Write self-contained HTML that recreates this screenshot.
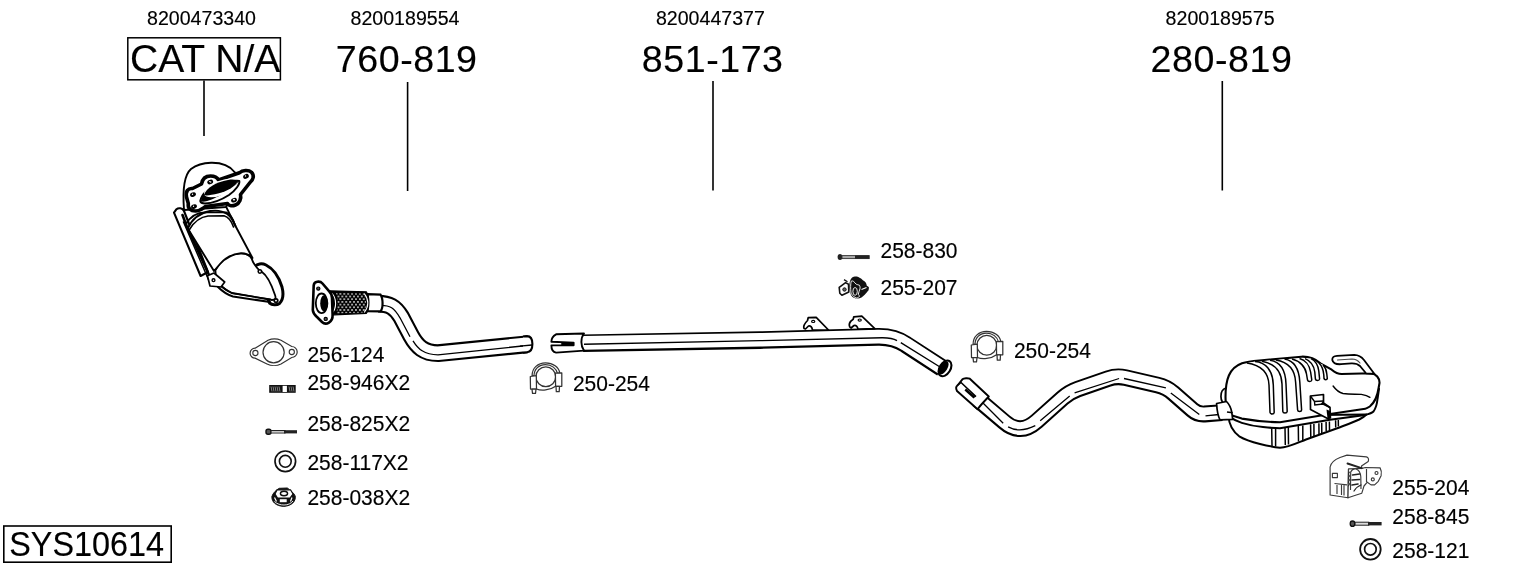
<!DOCTYPE html>
<html><head><meta charset="utf-8">
<style>
html,body{margin:0;padding:0;background:#fff;width:1530px;height:566px;overflow:hidden}
svg{position:absolute;left:0;top:0;will-change:transform}
text{font-family:"Liberation Sans",sans-serif;fill:#000;stroke:#000;stroke-width:0.15px}
</style></head><body>
<svg width="1530" height="566" viewBox="0 0 1530 566">
<!-- top id numbers -->
<g font-size="19.6">
<text x="147" y="24.6">8200473340</text>
<text x="350.5" y="24.6">8200189554</text>
<text x="655.9" y="24.6">8200447377</text>
<text x="1165.6" y="24.6">8200189575</text>
</g>
<!-- big part numbers -->
<g font-size="38.5">
<text x="130" y="72.3" font-size="39">CAT N/A</text>
<text x="335.8" y="71.6" font-size="37.6" letter-spacing="0.55">760-819</text>
<text x="641.8" y="71.6" font-size="37.6" letter-spacing="0.55">851-173</text>
<text x="1150.6" y="71.6" font-size="37.6" letter-spacing="0.55">280-819</text>
</g>
<rect x="127.8" y="37.8" width="152.6" height="42" fill="none" stroke="#000" stroke-width="1.5"/>
<!-- leader lines -->
<g stroke="#000" stroke-width="1.6">
<line x1="204" y1="80.5" x2="204" y2="136"/>
<line x1="407.6" y1="82" x2="407.6" y2="191"/>
<line x1="713" y1="81" x2="713" y2="190.5"/>
<line x1="1222.3" y1="81" x2="1222.3" y2="190.5"/>
</g>
<!-- SYS box -->
<rect x="3.8" y="526" width="167.4" height="36.2" fill="none" stroke="#000" stroke-width="1.6"/>
<text transform="translate(9.3,556.1) scale(0.98,1.035)" font-size="33">SYS10614</text>

<defs>
<pattern id="mesh" width="3.9" height="5.4" patternUnits="userSpaceOnUse" patternTransform="translate(336.5,293.8)">
<rect width="3.9" height="5.4" fill="#000"/>
<circle cx="0" cy="0" r="0.85" fill="#fff"/><circle cx="3.9" cy="0" r="0.85" fill="#fff"/><circle cx="0" cy="5.4" r="0.85" fill="#fff"/><circle cx="3.9" cy="5.4" r="0.85" fill="#fff"/>
<circle cx="1.95" cy="2.7" r="0.85" fill="#fff"/>
</pattern>
</defs>
<!-- ===== FRONT PIPE 760-819 ===== -->
<g id="frontpipe" fill="none" stroke-linejoin="round">
<path d="M378,303.7 C389,303.7 395,306.7 401,316.7 L411,335.7 C417,346.7 424,353.2 438,353.2 L527,344.3" stroke="#000" stroke-width="17.8"/>
<path d="M378,303.7 C389,303.7 395,306.7 401,316.7 L411,335.7 C417,346.7 424,353.2 438,353.2 L527,344.3" stroke="#fff" stroke-width="13.6"/>
<path d="M381,305.3 C390,305.3 394,307.8 400,317.8 L410,336.8 M413,340.8 C418,348.8 424,354.8 438,354.8 L532,345" stroke="#000" stroke-width="1.3"/>
<path d="M523,336.5 L527,336.1 C531,336.1 532.4,339.5 532.4,344 C532.4,348.5 531,352 527,352.2 L523,352.6" stroke="#000" stroke-width="2.1" fill="#fff"/>
<path d="M520,346.2 L532,345" stroke="#000" stroke-width="1.3"/>
</g>
<!-- sleeve -->
<path d="M367.5,294.2 L380.5,294.6 C383,298 383.5,308 380.5,311.4 L367.5,311.2 Z" fill="#fff" stroke="#000" stroke-width="2.2"/>
<!-- flex -->
<path d="M329.5,290.8 L366.3,291.8 C369.8,296 369.8,309 366.3,313.3 L329.5,315 Z" fill="#000" stroke="#000" stroke-width="1.2"/>
<path d="M336,293 L364.5,293.5 C366.5,298 366.5,308 364.5,312.5 L336,313.5 C338,308 338,298 336,293 Z" fill="url(#mesh)"/>
<path d="M331.6,293.2 C334.5,296 335.6,300 335.6,303.5 C335.6,307 334.5,311 331.6,313.5" stroke="#fff" stroke-width="1.1" fill="none"/>
<path d="M364.2,293.5 C367,297 367.8,300 367.8,303 C367.8,306 367,309 364.2,312.5" stroke="#fff" stroke-width="1.1" fill="none"/>
<!-- flange -->
<path d="M313.7,285.4 C314,281 320,280.5 322.5,283.5 L329,291 C331,293 332,296 332,298 L332.6,314.8 C333,322 326,326 322,322 L318,318 C316,316 313,314 312.8,310 Z" fill="#fff" stroke="#000" stroke-width="2.6"/>
<circle cx="318.3" cy="288.6" r="1.6" fill="#555" stroke="#000" stroke-width="1.2"/>
<circle cx="325.7" cy="318.9" r="1.6" fill="#555" stroke="#000" stroke-width="1.2"/>
<ellipse cx="321.6" cy="303.3" rx="5.8" ry="9.8" fill="#fff" stroke="#000" stroke-width="1.8"/>
<ellipse cx="324" cy="303.3" rx="3.8" ry="8" fill="#000"/>

<!-- ===== MID PIPE 851-173 ===== -->
<g fill="none">
<path d="M583,343.2 L760,340.1 L878,336.9 Q894.4,336.6 906,344.6 L942,368" stroke="#000" stroke-width="17.6"/>
<path d="M583,342.9 L760,339.8 L878,336.6 Q894.4,336.3 906,344.3 L942,367.7" stroke="#fff" stroke-width="13.6"/>
<path d="M584,344.2 L760,340.65 L882,337.7 Q892,337.6 897,340.6 M900.8,342.6 L940,367" stroke="#000" stroke-width="1.4"/>

</g>

<ellipse cx="945" cy="368.4" rx="8.6" ry="5.4" transform="rotate(-58 945 368.4)" fill="#fff" stroke="#000" stroke-width="2.1"/>
<ellipse cx="943.6" cy="367.9" rx="7.4" ry="3.7" transform="rotate(-58 943.6 367.9)" fill="#000"/>

<!-- mid sleeve -->
<path d="M584,333.5 L556.1,334.3 C553,336 551.4,339 551.4,341.8 L573.6,342.6 L573.6,345.2 L551.4,345.4 C551.4,349 553,352 556.1,352.6 L584,350.6 C580.5,346 580.5,338 584,333.5 Z" fill="#fff" stroke="#000" stroke-width="1.9" stroke-linejoin="round"/>
<path d="M562,342.7 L573.3,343 L573.3,345 L562,345.2 Z" fill="#000" stroke="#000" stroke-width="1.5"/>
<!-- brackets -->
<g fill="#fff" stroke="#000" stroke-width="1.7" stroke-linejoin="round">
<path d="M804,328.5 C803,326 804.5,323.5 807.5,320.5 L808.2,317.7 L816.2,317.4 L828.5,330 L812.5,330 C812,327 810.5,325.5 808.5,326 L805.5,329 Z"/>
<path d="M849.7,326.8 C848.5,324 850,321.5 853.2,319.3 L853.8,316.8 L861.8,316.2 L874.8,328.6 L858,329.2 C857.5,326.5 856,325 854,325.5 L851,328 Z"/>
</g>
<ellipse cx="813.2" cy="321.4" rx="1.6" ry="1.1" fill="none" stroke="#000" stroke-width="1.2"/>
<ellipse cx="859.7" cy="320.1" rx="1.6" ry="1.1" fill="none" stroke="#000" stroke-width="1.2"/>



<!-- ===== REAR PIPE 280-819 ===== -->
<g fill="none" stroke-linejoin="round">
<path id="rp" d="M978,399.5 L1004.2,421.8 Q1020.25,435.8 1036.7,421.2 L1062.6,398.1 Q1069.3,392.1 1077.8,389.1 L1108.1,378.6 Q1116.6,375.6 1125.4,377.6 L1157.7,385.1 Q1166.5,387.1 1173.3,393.1 L1192.4,409.9 Q1197.6,414.5 1204.6,414 L1222,412.7" stroke="#000" stroke-width="16.8"/>
<path d="M978,399.4 L1004.2,421.7 Q1020.25,435.7 1036.7,421.1 L1062.6,398 Q1069.3,392 1077.8,389 L1108.1,378.5 Q1116.6,375.5 1125.4,377.5 L1157.7,385 Q1166.5,387 1173.3,393 L1192.4,409.8 Q1197.6,414.4 1204.6,413.9 L1222,412.6" stroke="#fff" stroke-width="12.8"/>
<path d="M981,401 L1003.2,423.2 M1008.1,426.9 Q1020,433.3 1035.3,425.7 M1040.2,420.7 L1069.7,395.9 M1074.6,392.8 L1119.1,378.5 M1124,378.5 L1165.9,387.9 M1170.8,392.9 L1199.3,414.5 M1205.5,415.8 L1219.1,414.5" stroke="#000" stroke-width="1.3"/>
</g>
<!-- rear sleeve -->
<path d="M962.4,379.3 C964,378 968,378 969.8,378.7 L988.8,396.5 C985.5,400 981,404.5 977.6,409.2 L957,391 C956,389 956,386.5 957.4,385.5 Z" fill="#fff" stroke="#000" stroke-width="1.9" stroke-linejoin="round"/>
<path d="M957.4,385.5 L961,382.4 L976,396.6" fill="none" stroke="#000" stroke-width="1.5"/>
<path d="M966,388.5 L975.5,396.8 L973.5,398.5 L964.5,390.5 Z" fill="#000"/>

<!-- ===== MUFFLER ===== -->
<g stroke="#000" stroke-linejoin="round" stroke-linecap="round">
<path d="M1226,404 C1219.5,403 1219,390 1226,388" fill="#fff" stroke-width="1.7"/>
<path d="M1228.5,416 C1229,425 1232,431 1239.7,436.7 C1246,440.5 1252,442 1260,444 C1266,445.5 1273,447 1280,447.8 C1288,447.5 1296,443.5 1306,439.5 L1337.2,428.3 C1347,424.5 1355,421.5 1359.2,419.5 C1363,417.5 1365,416 1366.5,414.5 Z" fill="#fff" stroke-width="2"/>
<path d="M1226,413 L1225.5,396.9 C1225.5,380 1229,368 1242,363.3 C1248,361.5 1255,361 1262,360.3 L1301.5,356.7 C1309,356.4 1315,358.5 1320.4,363.4 L1331.7,369.7 C1335,372.5 1338,374 1341.6,374 L1371.3,373.2 C1376,374 1379.7,378 1379.5,383 L1378.6,388 C1377.5,396 1374,403 1369.8,406.5 C1368,407.8 1366.5,408.5 1365.3,408.7 L1330,414 L1280,422.3 C1265,422 1250,420 1241.8,418.6 C1236,417 1231,415 1227,412.8 Z" fill="#fff" stroke-width="2.1"/>
<path d="M1227,412.8 L1228,415.8 C1232,418.5 1236,421 1241.8,422.9 C1250,425.5 1256,426.5 1263,427.1 C1270,427.8 1275,428.2 1280,428.2 L1330,419.8 L1365.3,414.9 C1369,414 1372,413 1373.5,411.5 C1376,408 1377,404 1377.5,399 L1379,388.8" fill="none" stroke-width="2"/>
<!-- tail pipe -->
<path d="M1366,373.3 L1360,366 C1358,364 1355,363.2 1351.5,363.3 L1341,364.2 C1336,364.5 1333,363 1332.3,360 C1332,357 1334,356 1337,355.8 L1354.3,354.9 C1358.5,355 1362,357.5 1364,360 L1374.5,374 Z" fill="#fff" stroke-width="1.8"/>
<path d="M1337.5,360 L1352,359 C1355,359 1358,360.5 1360,363" fill="none" stroke-width="1.1" stroke="#444"/>
<path d="M1333.1,386 C1336,390 1339,392.5 1343,393.5 C1350,394.5 1356,394 1361.4,394.4 C1365,395 1368,396 1369.9,397.3" fill="none" stroke-width="1.4"/>
</g>
<!-- ribs top -->
<g fill="#fff" stroke="#000" stroke-width="1.5" stroke-linejoin="round">
<path d="M1247,363 C1260,365 1268.5,372 1269,385 L1270,412.5 C1270.2,414.5 1274,414.5 1274.2,412.5 L1273.3,385 C1273,370 1265,362 1255,361.4"/>
<path d="M1262,361.2 C1274,363.5 1281.5,370 1282,384 L1282.8,411.5 C1283,413.5 1287,413.5 1287.2,411.5 L1286,384 C1285.5,369 1279,361.5 1270,360.2"/>
<path d="M1276,359.9 C1288,362 1295,369 1295.6,382 L1297.6,410 C1297.8,412 1301.5,412 1301.6,410 L1299.8,382 C1299,368 1293,360.5 1284.5,359.1"/>
<path d="M1292,359.1 C1300,361 1305.5,367 1306.5,374 L1307.5,380 C1308,382 1311.5,382 1311.8,380 L1310.6,372 C1309.5,365 1305,360 1299.5,358.6"/>
<path d="M1305,358.6 C1311,361 1314,366 1314.8,372 L1315.4,379 C1315.8,381 1319.3,381 1319.6,379 L1318.8,371 C1318,365 1315,360.5 1311,358.6"/>
<path d="M1319,363 C1322,366 1323.5,371 1323.8,375 L1324,378.5 C1324.3,380 1327,380 1327.3,378.5 L1326.8,374 C1326.5,370 1325,367 1323,364.8"/>
</g>
<!-- lower ribs -->
<g fill="none" stroke="#000" stroke-width="1.5">
<path d="M1271.7,428.3 L1272,446 M1275.6,428 L1275.6,446.5"/>
<path d="M1285,427.5 L1285.3,445 M1288.3,427 L1288.5,444.5"/>
<path d="M1298.3,426 L1298.5,441.5 M1302.8,425.5 L1302.8,440"/>
<path d="M1310.6,424.3 L1310.8,437 M1313.9,424 L1314,436"/>
<path d="M1318.9,423.2 L1319,434 M1321.7,422.8 L1321.8,433"/>
<path d="M1326.1,422 L1326.2,431 M1329.4,421.5 L1329.5,430"/>
<path d="M1335.6,420.3 L1335.7,427.5 M1338.3,420 L1338.4,426.5"/>
</g>
<!-- bracket -->
<path d="M1310.4,396 L1323.5,394.5 L1323.5,403 L1330,407.5 L1330.4,418 L1327.5,418.5 L1310.5,409.5 Z" fill="#fff" stroke="#000" stroke-width="1.7" stroke-linejoin="round"/>
<path d="M1310.4,396 L1314.5,401.5 L1323.5,401 M1314.5,401.5 L1314.8,405 L1323,404 L1330,407.5" fill="none" stroke="#000" stroke-width="1.4"/>
<path d="M1326.5,409.5 L1330.2,411 L1330.4,418 L1327.5,418.5 Z" fill="#000"/>
<path d="M1323.5,402 L1321.5,404.5" stroke="#000" stroke-width="2"/>
<!-- clamp -->
<path d="M1216.6,403.5 L1226.5,401.5 C1229,404 1231,408 1231.7,412 L1232.7,419.4 L1220,419.8 C1218,416 1217,411 1216.6,403.5 Z" fill="#fff" stroke="#000" stroke-width="1.7" stroke-linejoin="round"/>
<path d="M1227,412 L1232.7,412.8" fill="none" stroke="#000" stroke-width="1.4"/>
<!-- ===== CATALYST ===== -->
<g stroke="#000" stroke-linejoin="round" stroke-linecap="round">
<!-- rod bracket -->
<path d="M176.5,209.2 C178.5,207.5 182.5,208 184,211 L208,272 L200.6,276 L174,212.6 Z" fill="#fff" stroke-width="2.1"/>
<!-- outlet flange -->
<path d="M254.5,267 C257,263.5 262,263 266,265 C273,268.5 279,277 282,287 C283.5,293 283,300 279.5,303.5 C276.5,305.5 272,305 269.5,303 Z" fill="#fff" stroke-width="3"/>
<!-- cone / outlet bulb -->
<path d="M215.4,270.3 C220,262 226,256 232.1,254.8 C237,253 241,253 244.4,253.6 C249,254.5 252,258 253,262 C256,267 258,270 262,272 C268,276 272,286 275,295 C276,298 276,300 272,300 L232,293 C225,290 219,285 216,279 Z" fill="#fff" stroke-width="1.8"/>
<path d="M219.1,283.3 C223,288 227,291 232.1,293.2 L270.4,299.3" fill="none" stroke-width="1.6"/>
<path d="M218,287 C223,292 228,295 233,296.5 L270,302" fill="none" stroke-width="2"/>
<!-- cylinder body -->
<path d="M187.8,228.4 C192,219 200,213 210,211 C220,209.5 230,212 234.8,224.7 L252.5,258 C249,254.5 245,253 241,253.2 C233,254 226,257 220,264 L214,271 Z" fill="#fff" stroke-width="1.9"/>
<path d="M185.5,224.5 C190,217 197,212.5 205.1,212.4 L226.1,212.4 C230,214 233,219 234.8,224.7" fill="none" stroke-width="1.9"/>
<path d="M189.5,229.5 C194,222 200,217 208,216 L224,215.8 C228,217 231.5,221 233.5,227" fill="none" stroke-width="1.6"/>
<path d="M226,206.5 L235.5,226" fill="none" stroke-width="1.8"/>
<path d="M182.5,215 L187,227 L209,275" fill="none" stroke-width="2.6"/>
<path d="M183.5,222 L209,280.8" fill="none" stroke-width="1.5"/>
<!-- tab -->
<path d="M207.4,275.8 L214,273 L224.7,282 L221,287 L210,286 Z" fill="#fff" stroke-width="1.7"/>
<circle cx="213.5" cy="280.2" r="1.4" fill="none" stroke-width="1.4"/>
<circle cx="259.9" cy="271.5" r="1.7" fill="#fff" stroke-width="1.6"/>
<circle cx="276" cy="300.6" r="1.8" fill="#fff" stroke-width="1.7"/>
<!-- dome -->
<path d="M184,210 C182.5,190 184,175 191,169 C197,164.5 204,163 211,162.8 C220,162.6 229,165 234.5,172 C238,176 238,180 236,186 L226,207 Z" fill="#fff" stroke-width="1.9"/>
<!-- flange -->
<path d="M186.5,197 C185.5,191 188,188 192.5,188.5 L201.5,184 C202.5,178.5 206,176 210.5,176 C215,176 217.5,178 218.5,180 L239.5,172.8 C242.5,170 248.5,169.5 251.5,172.3 C254.5,175.5 253.5,179.5 250,182.5 L240.5,194.5 C241.5,198.5 239.5,203.5 235.5,205 C231.5,206.5 228.5,205.5 227.5,203.5 L205.5,206.5 C202.5,208.5 200,211 195.5,211 C190.5,211 187.5,208 188.3,203.5 Z" fill="#fff" stroke-width="3.6"/>
<g fill="#000" stroke="none">
<ellipse cx="193" cy="194.6" rx="3" ry="2.2" transform="rotate(-20 193 194.6)"/>
<ellipse cx="210.2" cy="182" rx="3" ry="2.2" transform="rotate(-20 210.2 182)"/>
<ellipse cx="246" cy="176.4" rx="3" ry="2.2" transform="rotate(-30 246 176.4)"/>
<ellipse cx="234" cy="200.2" rx="3" ry="2.2" transform="rotate(-20 234 200.2)"/>
<ellipse cx="194" cy="206.6" rx="3" ry="2.2" transform="rotate(-20 194 206.6)"/>
</g>
<g fill="#fff" stroke="none">
<circle cx="192.5" cy="194.2" r="0.7"/><circle cx="209.7" cy="181.6" r="0.7"/><circle cx="245.5" cy="176" r="0.7"/><circle cx="233.5" cy="199.8" r="0.7"/><circle cx="193.5" cy="206.2" r="0.7"/>
</g>
<path d="M200.3,201 C202,193 210,187.5 220,184.3 C228,181.7 235,180.3 239.3,181 C240,184 236,190 229,195 C222,199.5 212,203.3 205,203.5 C202.5,203.5 200.6,202.5 200.3,201 Z" fill="#fff" stroke-width="2"/>
<path d="M200.8,201.2 C202.5,192.5 211,187.5 220,184.8 C228,182.3 235,181 238.3,181.5 C236,186.5 229,191 221,195 C214,198.5 207,202.5 200.8,201.5 Z" fill="#000" stroke="none"/>
<circle cx="210.7" cy="182" r="0.7" fill="#fff" stroke="none"/>
<circle cx="234.4" cy="199.8" r="0.7" fill="#fff" stroke="none"/>
</g>
<ellipse cx="220.5" cy="188" rx="17.5" ry="7.2" transform="rotate(-22 220.5 188)" fill="#fff" stroke-width="1.7"/>
<path d="M204,195 C206,188 216,182 228,180 C234,179 237,180 237.5,181.5 C236,186 228,191 218,193.5 C212,195 206,196 204,195 Z" fill="#000" stroke="none"/>
</g>


<!-- ===== ICONS ===== -->
<!-- gasket 256-124 -->
<path d="M255.1,348.2 L268,340.2 C272,338.5 277,338.5 281,340.2 L291.7,346.5 A5.5,5.5 0 0 1 291.7,357.5 L281,364 C277,366 271,366 267,364 L255.1,358.2 A5,5 0 0 1 255.1,348.2 Z" fill="#fff" stroke="#333" stroke-width="1.2"/>
<circle cx="273.6" cy="352.3" r="10.6" fill="none" stroke="#333" stroke-width="1.2"/>
<circle cx="255.4" cy="353" r="2.6" fill="none" stroke="#333" stroke-width="1.1"/>
<circle cx="291.8" cy="352" r="2.6" fill="none" stroke="#333" stroke-width="1.1"/>
<!-- stud 258-946 -->
<rect x="269.2" y="385" width="26.5" height="7.8" fill="#111"/>
<rect x="282.6" y="385.8" width="4.3" height="6.2" fill="#fff"/>
<g stroke="#ccc" stroke-width="0.6">
<path d="M271,386.5 L272,391.5 M273,386.5 L274,391.5 M275,386.5 L276,391.5 M277,386.5 L278,391.5 M279,386.5 L280,391.5 M289,386.5 L290,391.5 M291,386.5 L292,391.5 M293,386.5 L294,391.5"/>
</g>
<!-- bolt 258-825 -->
<rect x="266" y="429.3" width="5" height="5" rx="2" fill="#555" stroke="#111" stroke-width="1.4"/>
<path d="M271,430.6 L285,430.6 L285,433 L271,433 Z" fill="#fff" stroke="#222" stroke-width="1.2"/>
<rect x="284" y="430.2" width="13" height="3.2" fill="#222"/>
<!-- washer 258-117 -->
<circle cx="285.3" cy="461.3" r="10.3" fill="none" stroke="#111" stroke-width="1.7"/>
<circle cx="285.3" cy="461.3" r="5.9" fill="none" stroke="#111" stroke-width="1.6"/>
<!-- nut 258-038 -->
<path d="M279.3,488.3 L287.3,488 C290,490 294,493 295.2,496 C296,501 292,506 283.6,506.4 C276,506 271.5,502 271.9,496.5 C273,493 276,490 279.3,488.3 Z" fill="#111" stroke="#111" stroke-width="1"/>
<path d="M277,490 L290.5,489.8 L293,494 L290,498 L277.5,498 L275,494 Z" fill="#fff" stroke="#111" stroke-width="1.2"/>
<ellipse cx="284" cy="493.5" rx="3.6" ry="2.2" fill="none" stroke="#111" stroke-width="1.4"/>
<rect x="279.8" y="499.2" width="6.9" height="3" fill="#fff"/>
<path d="M274.5,497.5 L276.5,501.5 M292,497.5 L290.5,501.5" stroke="#fff" stroke-width="1.2"/>
<path d="M274.5,501.5 C277,504 280.5,505 284,505 C288,505 291,503.5 293,501" fill="none" stroke="#fff" stroke-width="0.9"/>
<!-- clamps 250-254 -->
<g id="clamp" fill="#fff" stroke="#333" stroke-width="1.25" stroke-linejoin="round">
<path d="M532.1,375.7 C532,368 538,362.8 545.5,362.8 C553,362.8 559,367 559.7,372.9 L557.5,373.5 C556.5,368.5 551.5,364.5 545.5,364.5 C539,364.5 534,369 534,376 Z"/>
<circle cx="545.8" cy="376.8" r="9.9"/>
<path d="M530.3,376.5 L536.3,375.7 L536.5,389.1 L530.5,389.1 Z"/>
<path d="M555.4,373.2 L561.8,372.9 L561.8,386.3 L555.6,386.3 Z"/>
<path d="M536.5,389 C541,391 550,390.5 555.6,386.3" fill="none"/>
<path d="M532,389.2 L536,389.2 L535.5,393.4 L532.5,393.4 Z"/>
<path d="M556,386.3 L559.5,386.3 L559.2,391.6 L556.3,391.6 Z"/>
</g>
<use href="#clamp" transform="translate(441,-31.5)"/>
<!-- bolt 258-830 -->
<ellipse cx="840" cy="257" rx="2.4" ry="3" fill="#222"/>
<rect x="842" y="255.6" width="27.2" height="3" fill="#aaa" stroke="#333" stroke-width="0.9"/>
<rect x="855" y="255.5" width="14.2" height="3.2" fill="#222"/>
<!-- hanger 255-207 -->
<path d="M850.9,278.9 C852.5,277 854,276.3 855.1,276.5 C857,276.3 858,276.8 858.8,277.3 C860.5,278.3 861.8,279 862.6,280 C864,281 865.2,281.8 865.7,282.6 C866.5,283.8 866.6,285 866.8,285.8 C868,286.5 869.2,287 868.9,287.9 C868.8,289.5 868.5,290.5 867.9,291.1 C866.8,292.5 865.7,293.8 864.7,294.8 C863.5,296 862.5,296.8 861.5,297.4 C860,298.2 858.5,298.6 857.3,298.5 C855,298.3 853.5,297.8 852.5,296.9 C851.3,295.8 850.8,294.5 850.4,293.2 C849.5,290 849.2,287.5 849.3,285.2 C849.5,282.5 850,280.2 850.9,278.9 Z" fill="#111"/>
<path d="M851.2,281.2 C852,280.8 853,280.9 853.5,281.3 C854.5,282.3 855.2,283.5 856.2,284.2 C857.2,284.8 858.5,284.8 859.4,285.2 C860.2,286.5 860.2,287.8 859.9,289 C859.5,290.8 858.5,292.5 858.3,294.3 C858.8,295 859.5,295.6 859.4,296.4 C858.5,297.5 857.3,298 856.2,298 C854.8,297.5 853.3,296.5 852.5,295.3 C851.5,294.3 851,293.2 850.9,292.1 C850.5,288.5 850.5,284.5 851.2,281.2 Z" fill="none" stroke="#fff" stroke-width="0.9"/>
<ellipse cx="855.1" cy="291.4" rx="2.2" ry="3.9" fill="none" stroke="#fff" stroke-width="0.9"/>
<path d="M839.2,287.4 L845.6,282.6 L848.5,284.2 L848.8,292.1 L841.9,295.3 L839.8,293.2 Z" fill="#fff" stroke="#111" stroke-width="1.6" stroke-linejoin="round"/>
<circle cx="844.5" cy="289.5" r="1.7" fill="#666" stroke="#111" stroke-width="1"/>
<path d="M844,279.6 L847.5,281.8" stroke="#111" stroke-width="1.3"/>
<path d="M861.5,289.5 L866.5,287.5" stroke="#fff" stroke-width="1.1"/>
<!-- hanger 255-204 -->
<g fill="#fff" stroke="#3a3a3a" stroke-width="1.15" stroke-linejoin="round">
<path d="M1330.1,495 L1330.1,467 C1331,462 1335,459.5 1340,457.5 L1347,455.1 L1366.4,456.9 C1368.5,457.5 1369,459.5 1368.2,461.5 L1361.5,466 L1362,469 L1348.5,469 L1348,497.8 Z"/>
<path d="M1348.5,469 L1362,468.4 L1365.4,467.5 L1380.1,467.9 C1381.3,470 1381.5,474 1381.1,475.7 L1378.3,481.3 L1374.6,484.9 L1371,484.9 L1367.3,482.2 L1364,486 L1361.8,493.2 L1356.3,495 L1348,497.8 Z"/>
<path d="M1350.5,490 L1350.7,472 C1352,469.5 1354,468.5 1356,469 C1359,470 1360.5,473 1360.8,476.7 L1361,489"/>
<rect x="1332.4" y="473.4" width="5" height="4.2"/>
<path d="M1334.5,483.5 L1347,484.9 M1337,484.9 L1337,494 M1341.5,485 L1341.5,495 M1344,485 L1344,495.5"/>
<path d="M1366.5,469 L1366.5,482"/>
<circle cx="1376.5" cy="473" r="1.5"/>
<circle cx="1372.8" cy="479.4" r="1.5"/>
</g>
<g fill="none" stroke="#222" stroke-linecap="round">
<path d="M1347.5,463.5 L1361.5,468.2" stroke-width="1.9"/>
<path d="M1352.5,475 L1359.5,474 M1352,480 L1359.5,479.5 M1352,485 L1358,484" stroke-width="1.6"/>
<path d="M1349.5,472 L1348.5,474 L1349.5,476 L1348.5,478 L1349.5,480 L1348.5,482 L1349.5,484 L1348.5,486" stroke-width="1"/>
<path d="M1354,491 C1356,488 1358,486 1361,485" stroke-width="1.3"/>
</g>
<!-- bolt 258-845 -->
<rect x="1354.8" y="522.2" width="14" height="3" fill="#ddd" stroke="#222" stroke-width="1"/>
<rect x="1368" y="522" width="13.6" height="3.4" fill="#222"/>
<ellipse cx="1352.5" cy="523.7" rx="2.3" ry="2.7" fill="#555" stroke="#111" stroke-width="1.3"/>
<!-- washer 258-121 -->
<circle cx="1370.4" cy="549.3" r="10.3" fill="none" stroke="#111" stroke-width="1.8"/>
<circle cx="1370.4" cy="549.3" r="5.8" fill="none" stroke="#111" stroke-width="1.7"/>

<!-- small labels -->
<g font-size="21">
<text transform="translate(307.4,362.3) scale(1,1.09)">256-124</text>
<text transform="translate(307.4,390.4) scale(1,1.09)">258-946X2</text>
<text transform="translate(307.4,431.4) scale(1,1.09)">258-825X2</text>
<text transform="translate(307.4,470) scale(1,1.09)">258-117X2</text>
<text transform="translate(307.4,505) scale(1,1.09)">258-038X2</text>
<text transform="translate(880.5,257.5) scale(1,1.09)">258-830</text>
<text transform="translate(880.5,295.3) scale(1,1.09)">255-207</text>
<text transform="translate(572.9,390.8) scale(1,1.09)">250-254</text>
<text transform="translate(1013.9,358.4) scale(1,1.09)">250-254</text>
<text transform="translate(1392.3,495.1) scale(1,1.09)">255-204</text>
<text transform="translate(1392.3,524.2) scale(1,1.09)">258-845</text>
<text transform="translate(1392.3,557.6) scale(1,1.09)">258-121</text>
</g>
</svg>
</body></html>
